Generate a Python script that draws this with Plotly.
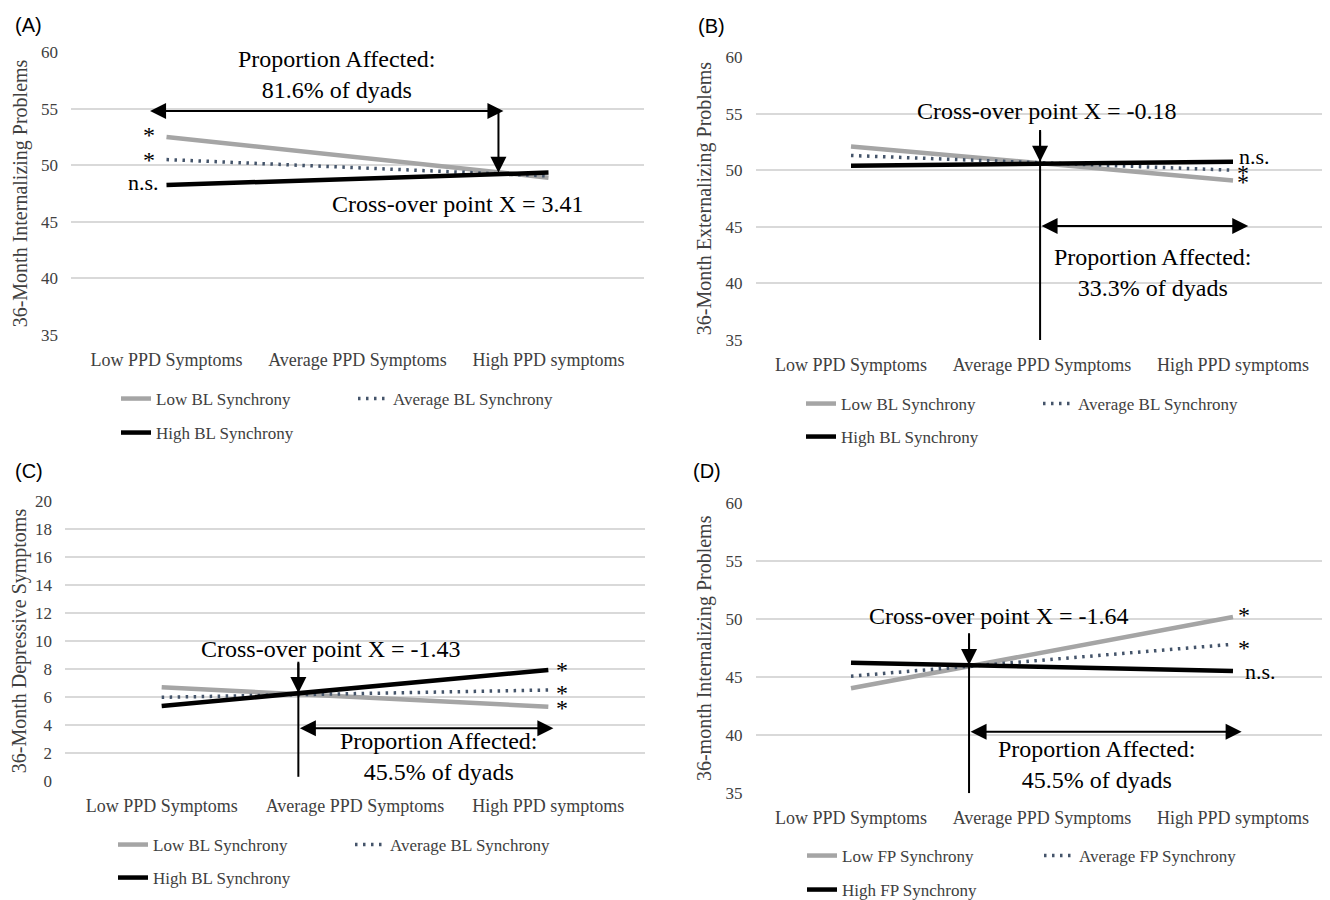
import plotly.graph_objects as go

# ---------------- data ----------------
categories = ["Low PPD Symptoms", "Average PPD Symptoms", "High PPD symptoms"]

bl_names = ["Low BL Synchrony", "Average BL Synchrony", "High BL Synchrony"]
fp_names = ["Low FP Synchrony", "Average FP Synchrony", "High FP Synchrony"]

# Panel A: 36-Month Internalizing Problems (BL synchrony)
a_low = [52.5, 50.7, 48.9]
a_avg = [50.5, 49.8, 49.05]
a_high = [48.25, 48.8, 49.35]

# Panel B: 36-Month Externalizing Problems (BL synchrony)
b_low = [52.1, 50.6, 49.1]
b_avg = [51.3, 50.65, 50.0]
b_high = [50.4, 50.6, 50.75]

# Panel C: 36-Month Depressive Symptoms (BL synchrony)
c_low = [6.7, 6.0, 5.3]
c_avg = [5.98, 6.24, 6.5]
c_high = [5.36, 6.65, 7.93]

# Panel D: 36-month Internalizing Problems (FP synchrony)
d_low = [44.05, 47.1, 50.2]
d_avg = [45.1, 46.5, 47.85]
d_high = [46.25, 45.9, 45.55]

y_titles = ["36-Month Internalizing Problems", "36-Month Externalizing Problems",
            "36-Month Depressive Symptoms", "36-month Internalizing Problems"]
panel_labels = ["(A)", "(B)", "(C)", "(D)"]
y_ranges = [[35, 60], [35, 60], [0, 20], [35, 60]]
y_dticks = [5, 5, 2, 5]

# ---------------- styles ----------------
OFF = 8                      # page body margin of the html page
W, H = 1330 - OFF, 900 - OFF
SERIF = "Liberation Serif"
SANS = "Liberation Sans"
GREY_TXT = "#404040"
line_styles = [
    dict(color="#a5a5a5", width=4.5),
    dict(color="#44546a", width=3.5, dash="2.5px,5.5px"),
    dict(color="#000000", width=4.5),
]


def pxx(px):
    return (px - OFF) / W


def pxy(py):
    return 1 - (py - OFF) / H


# pixel boxes (page coords) of each plot area: (left, right, top, bottom)
boxes = [(71, 644, 52, 335), (755.5, 1328.5, 57, 340),
         (65, 645, 501, 781), (755.5, 1328.5, 503.3, 793.3)]
# legend rows: (text start x, row1 y, row2 y)
legend_pos = [(156, 399, 433), (841, 404, 437), (153, 845, 878), (842, 856, 890)]
label_pos = [(28, 25), (711, 26), (29, 471), (707, 471)]

panels = [
    (a_low, a_avg, a_high, bl_names),
    (b_low, b_avg, b_high, bl_names),
    (c_low, c_avg, c_high, bl_names),
    (d_low, d_avg, d_high, fp_names),
]

fig = go.Figure()
layout = dict(
    width=W, height=H, margin=dict(l=0, r=0, t=0, b=0, autoexpand=False),
    paper_bgcolor="white", plot_bgcolor="white", showlegend=True,
    font=dict(family=SERIF, color=GREY_TXT),
)
annotations = []
shapes = []

for i, (lo, av, hi, names) in enumerate(panels):
    n = i + 1
    sfx = "" if n == 1 else str(n)
    xa, ya = "x" + sfx, "y" + sfx
    l, r, t, b = boxes[i]
    leg1 = "legend" if i == 0 else "legend" + str(2 * i + 1)
    leg2 = "legend" + str(2 * i + 2)
    for j, (vals, name) in enumerate(zip([lo, av, hi], names)):
        fig.add_trace(go.Scatter(
            x=categories, y=vals, name=name, mode="lines",
            line=line_styles[j], xaxis=xa, yaxis=ya,
            legend=leg1 if j < 2 else leg2, hoverinfo="skip",
        ))
    layout["xaxis" + sfx] = dict(
        domain=[pxx(l), min(pxx(r), 1.0)], anchor=ya, type="category", range=[-0.5, 2.5],
        showgrid=False, showline=False, zeroline=False, ticks="",
        tickfont=dict(family=SERIF, size=18, color=GREY_TXT),
        ticklabelstandoff=12, fixedrange=True, automargin=False,
    )
    layout["yaxis" + sfx] = dict(
        domain=[pxy(b), pxy(t)], anchor=xa, range=y_ranges[i],
        dtick=y_dticks[i], tick0=0, showgrid=True, gridcolor="#d9d9d9", gridwidth=1.6,
        showline=False, zeroline=False, ticks="",
        tickfont=dict(family=SERIF, size=17, color=GREY_TXT),
        ticklabelstandoff=12, fixedrange=True, automargin=False,
        title=dict(text=y_titles[i], font=dict(family=SERIF, size=20, color=GREY_TXT),
                   standoff=8),
    )
    tx, r1, r2 = legend_pos[i]
    for leg, ry in ((leg1, r1), (leg2, r2)):
        layout[leg] = dict(
            orientation="h", x=pxx(tx - 40), xanchor="left", y=pxy(ry),
            yanchor="middle", bgcolor="rgba(0,0,0,0)", borderwidth=0,
            entrywidth=192, entrywidthmode="pixels", traceorder="normal",
            font=dict(family=SERIF, size=17, color=GREY_TXT),
        )
    px_, py_ = label_pos[i]
    annotations.append(dict(
        text=panel_labels[i], xref="paper", yref="paper", x=pxx(px_), y=pxy(py_),
        xanchor="center", yanchor="middle", showarrow=False,
        font=dict(family=SANS, size=20, color="black"),
    ))


def txt(ax, text, x, y, size=24, xanchor="center", yshift=0):
    sfx = "" if ax == 1 else str(ax)
    annotations.append(dict(
        xref="x" + sfx, yref="y" + sfx, x=x, y=y, text=text, showarrow=False,
        xanchor=xanchor, yanchor="middle", yshift=yshift,
        font=dict(family=SERIF, size=size, color="black"),
    ))


def arrow(ax, x0, y0, x1, y1, both=False):
    sfx = "" if ax == 1 else str(ax)
    d = dict(
        xref="x" + sfx, yref="y" + sfx, axref="x" + sfx, ayref="y" + sfx,
        x=x1, y=y1, ax=x0, ay=y0, text="", showarrow=True,
        arrowhead=2, arrowsize=1.6, arrowwidth=2, arrowcolor="black",
        standoff=0, startstandoff=0,
    )
    if both:
        d.update(arrowside="end+start", startarrowhead=2, startarrowsize=1.6)
    annotations.append(d)


def vline(ax, x, y0, y1):
    sfx = "" if ax == 1 else str(ax)
    shapes.append(dict(type="line", xref="x" + sfx, yref="y" + sfx,
                       x0=x, x1=x, y0=y0, y1=y1, line=dict(color="black", width=2)))


STAR_SHIFT = -2
STAR_SIZE = 24

# Panel A
txt(1, "Proportion Affected:<br>81.6% of dyads", 0.893, 57.97)
arrow(1, -0.094, 54.79, 1.764, 54.79, both=True)
arrow(1, 1.738, 54.79, 1.738, 49.34)
txt(1, "Cross-over point X = 3.41", 1.527, 46.57)
txt(1, "*", -0.094, 52.87, size=STAR_SIZE, yshift=STAR_SHIFT)
txt(1, "*", -0.094, 50.61, size=STAR_SIZE, yshift=STAR_SHIFT)
txt(1, "n.s.", -0.03, 48.43, size=22, xanchor="right")

# Panel B
vline(2, 0.99, 53.55, 35)
arrow(2, 0.99, 53.55, 0.99, 50.75)
arrow(2, 0.99, 45.07, 2.08, 45.07, both=True)
txt(2, "Cross-over point X = -0.18", 1.026, 55.23)
txt(2, "Proportion Affected:<br>33.3% of dyads", 1.58, 40.99)
txt(2, "n.s.", 2.02, 51.2, size=22, xanchor="left")
txt(2, "*", 2.05, 49.93, size=STAR_SIZE, yshift=STAR_SHIFT)
txt(2, "*", 2.05, 49.13, size=STAR_SIZE, yshift=STAR_SHIFT)

# Panel C
vline(3, 0.707, 8.52, 0.3)
arrow(3, 0.707, 8.52, 0.707, 6.29)
arrow(3, 0.707, 3.76, 2.026, 3.76, both=True)
txt(3, "Cross-over point X = -1.43", 0.876, 9.43)
txt(3, "Proportion Affected:<br>45.5% of dyads", 1.433, 1.74)
txt(3, "*", 2.07, 8.05, size=STAR_SIZE, yshift=STAR_SHIFT)
txt(3, "*", 2.07, 6.45, size=STAR_SIZE, yshift=STAR_SHIFT)
txt(3, "*", 2.07, 5.36, size=STAR_SIZE, yshift=STAR_SHIFT)

# Panel D
vline(4, 0.618, 48.8, 35)
arrow(4, 0.618, 48.8, 0.618, 46.06)
arrow(4, 0.618, 40.31, 2.045, 40.31, both=True)
txt(4, "Cross-over point X = -1.64", 0.775, 50.3)
txt(4, "Proportion Affected:<br>45.5% of dyads", 1.287, 37.5)
txt(4, "*", 2.06, 50.57, size=STAR_SIZE, yshift=STAR_SHIFT)
txt(4, "*", 2.06, 47.7, size=STAR_SIZE, yshift=STAR_SHIFT)
txt(4, "n.s.", 2.05, 45.54, size=22, xanchor="left")

layout["annotations"] = annotations
layout["shapes"] = shapes
fig.update_layout(**layout)
fig.write_html("out.html")
